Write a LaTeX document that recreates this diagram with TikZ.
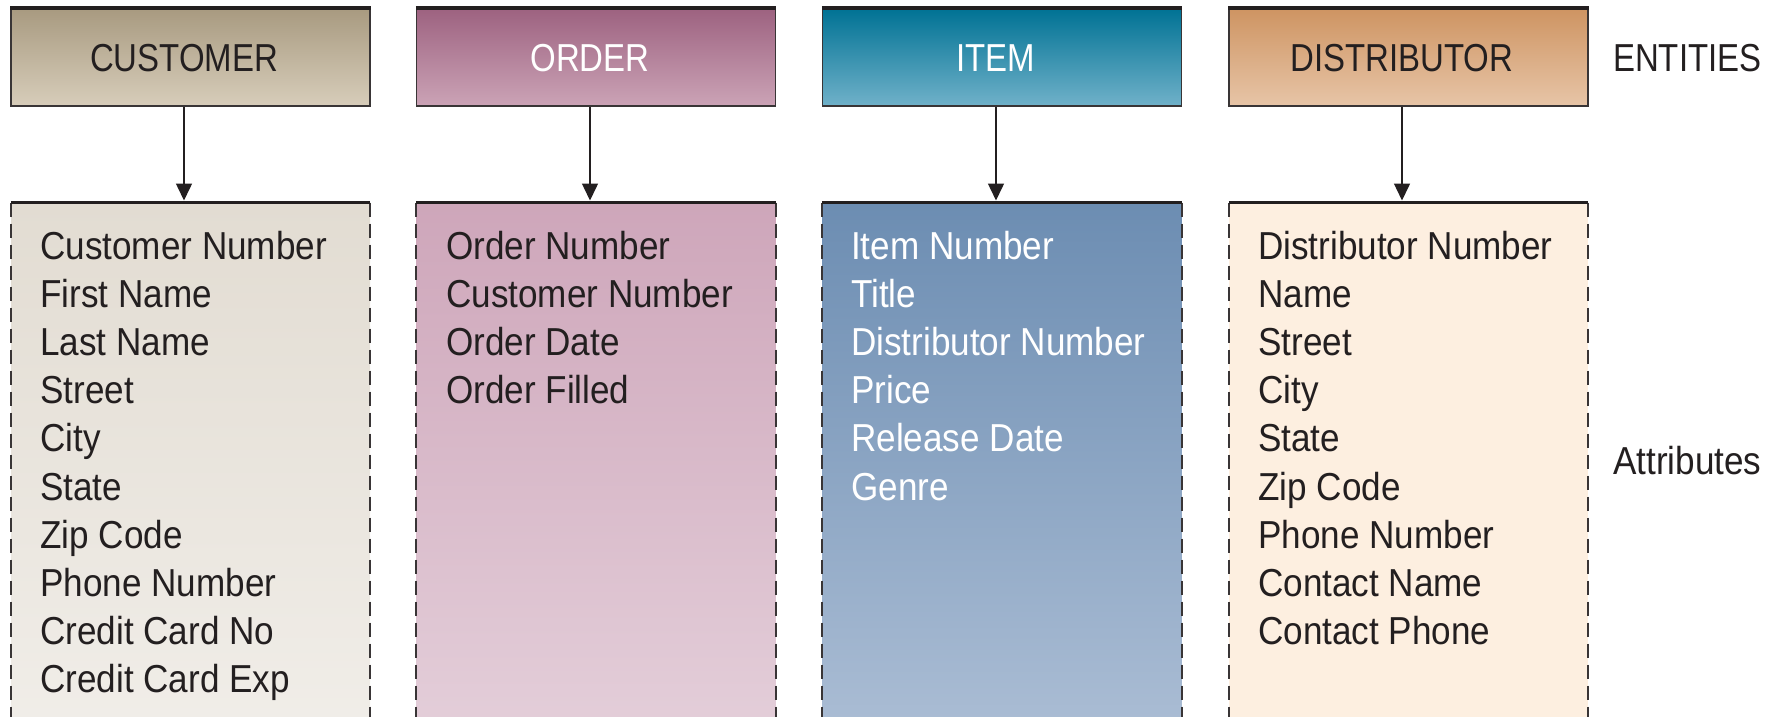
\documentclass[tikz,border=0pt]{standalone}
\usepackage{fontspec}
\setmainfont{Liberation Sans}
\newfontfamily\capsfont{Liberation Sans}[FakeStretch=0.845]
\newfontfamily\attrfont{Liberation Sans}[FakeStretch=0.9]
\usetikzlibrary{arrows.meta}

% entity header colours (top / bottom of the gradient)
\definecolor{custTop}{RGB}{168,154,128}
\definecolor{custBot}{RGB}{215,205,186}
\definecolor{ordTop}{RGB}{157,98,128}
\definecolor{ordBot}{RGB}{203,163,182}
\definecolor{itemTop}{RGB}{0,114,148}
\definecolor{itemBot}{RGB}{112,177,201}
\definecolor{distTop}{RGB}{206,148,98}
\definecolor{distBot}{RGB}{231,197,167}
% attribute panel colours
\definecolor{custATop}{RGB}{226,220,210}
\definecolor{custABot}{RGB}{241,238,233}
\definecolor{ordATop}{RGB}{206,166,186}
\definecolor{ordABot}{RGB}{228,207,218}
\definecolor{itemATop}{RGB}{108,141,178}
\definecolor{itemABot}{RGB}{172,190,213}
\definecolor{distA}{RGB}{253,239,224}
\definecolor{ink}{RGB}{35,31,32}

\begin{document}
\begin{tikzpicture}[x=1pt,y=-1pt,
  entitybox/.style={draw=ink!90, line width=1.2pt, minimum width=359pt,
    minimum height=97.5pt, inner sep=0pt},
  attrbox/.style={draw=none, minimum width=359pt, minimum height=540pt,
    inner sep=0pt, anchor=north},
  topline/.style={ink, line width=3.6pt},
  sideline/.style={ink!90, line width=1.8pt, dash pattern=on 14pt off 7pt},
  headtext/.style={anchor=base, inner sep=0pt,
    font=\capsfont\fontsize{39pt}{48.2pt}\selectfont},
  attrtext/.style={anchor=base west, inner sep=0pt,
    font=\attrfont\fontsize{39pt}{48.2pt}\selectfont},
  link/.style={ink, line width=1.5pt, -{Triangle[length=17pt,width=16pt]}}
]
\useasboundingbox[fill=white] (0,0) rectangle (1785,717);

% ---------- entity headers ----------
\node[entitybox, top color=custTop, bottom color=custBot] (custbox) at (190.5,57.25) {};
\node[entitybox, top color=ordTop, bottom color=ordBot] (ordbox) at (596,57.25) {};
\node[entitybox, top color=itemTop, bottom color=itemBot] (itembox) at (1002,57.25) {};
\node[entitybox, top color=distTop, bottom color=distBot] (distbox) at (1408.5,57.25) {};
\foreach \b in {custbox,ordbox,itembox,distbox}
  \draw[topline] (\b.north west) -- (\b.north east);

\node[headtext, text=ink] (custlbl) at (184,71.7) {CUSTOMER};
\node[headtext, text=white] (ordlbl) at (590,71.7) {ORDER};
\node[headtext, text=white] (itemlbl) at (996,71.7) {ITEM};
\node[headtext, text=ink] (distlbl) at (1402,71.7) {DISTRIBUTOR};

% ---------- attribute panels ----------
\node[attrbox, top color=custATop, bottom color=custABot] (custattr) at (190.5,202.5) {};
\node[attrbox, top color=ordATop, bottom color=ordABot] (ordattr) at (596,202.5) {};
\node[attrbox, top color=itemATop, bottom color=itemABot] (itemattr) at (1002,202.5) {};
\node[attrbox, fill=distA] (distattr) at (1408.5,202.5) {};
\foreach \b in {custattr,ordattr,itemattr,distattr}{
  \draw[sideline] (\b.north west) -- (\b.south west);
  \draw[sideline] (\b.north east) -- (\b.south east);
  \draw[topline] (\b.north west) -- (\b.north east);
}

% ---------- attribute lists ----------
\foreach \t [count=\i from 0] in {Customer Number,First Name,Last Name,Street,City,State,Zip Code,Phone Number,Credit Card No,Credit Card Exp}
  \node[attrtext, text=ink] (cust-\i) at (40,{259+\i*48.2}) {\t};
\foreach \t [count=\i from 0] in {Order Number,Customer Number,Order Date,Order Filled}
  \node[attrtext, text=ink] (ord-\i) at (446,{259+\i*48.2}) {\t};
\foreach \t [count=\i from 0] in {Item Number,Title,Distributor Number,Price,Release Date,Genre}
  \node[attrtext, text=white] (item-\i) at (851,{259+\i*48.2}) {\t};
\foreach \t [count=\i from 0] in {Distributor Number,Name,Street,City,State,Zip Code,Phone Number,Contact Name,Contact Phone}
  \node[attrtext, text=ink] (dist-\i) at (1258,{259+\i*48.2}) {\t};

% ---------- connectors ----------
\foreach \b/\l/\a in {custbox/custlbl/custattr,ordbox/ordlbl/ordattr,itembox/itemlbl/itemattr,distbox/distlbl/distattr}
  \draw[link] (\b.south -| \l) -- ([yshift=2pt]\a.north -| \l);

% ---------- row captions ----------
\node[headtext, anchor=base west, text=ink] (entcap) at (1613,71.7) {ENTITIES};
\node[attrtext, text=ink] (attcap) at (1613,474) {Attributes};
\end{tikzpicture}
\end{document}
